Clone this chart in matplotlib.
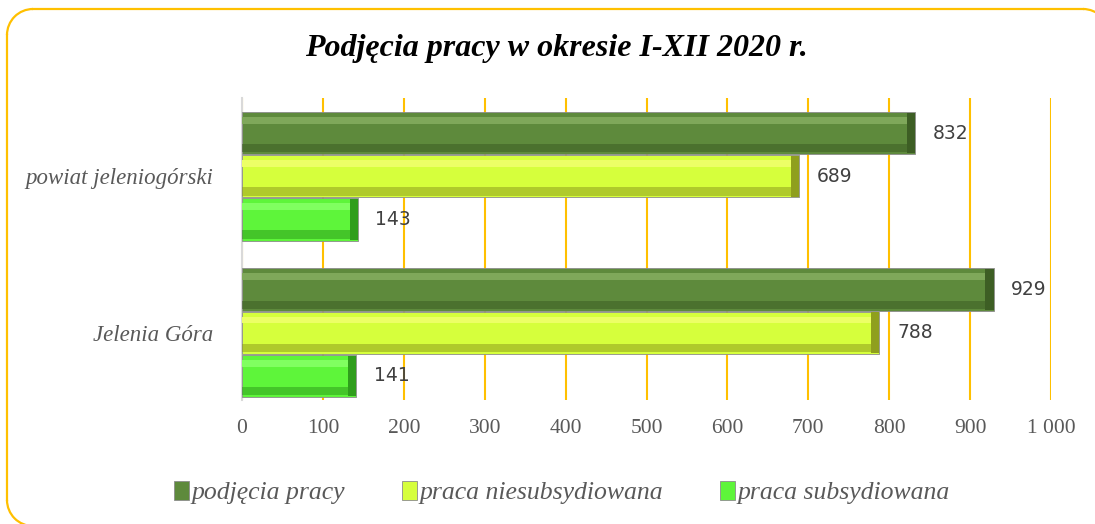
import matplotlib.pyplot as plt
import numpy as np
from matplotlib.patches import Arc

# dane
kategorie = ["Jelenia Góra", "powiat jeleniogórski"]
serie = ["podjęcia pracy", "praca niesubsydiowana", "praca subsydiowana"]
podjecia = [929, 832]
niesubsydiowana = [788, 689]
subsydiowana = [141, 143]
x_ticks = [0, 100, 200, 300, 400, 500, 600, 700, 800, 900, 1000]
x_tick_labels = ["0", "100", "200", "300", "400", "500", "600", "700", "800", "900", "1 000"]

kolory = ["#5e8a3c", "#d6ff3c", "#5ef53a"]
jasne = ["#7fa85a", "#ecff66", "#80ff60"]
ciemne = ["#3d5e24", "#8f9f1e", "#2f9e1c"]

serif = "Liberation Serif"
szary = "#595959"

fig = plt.figure(figsize=(10.95, 5.24), dpi=100)

# ramka (w pikselach, oś y w dół)
tlo = fig.add_axes([0, 0, 1, 1], zorder=-1)
tlo.set_xlim(0, 1095)
tlo.set_ylim(524, 0)
tlo.axis("off")
r = 26
ramka_kw = dict(color="#ffc000", linewidth=1.6)
tlo.plot([7 + r, 1083], [9, 9], **ramka_kw)
tlo.plot([7, 7], [9 + r, 500], **ramka_kw)
tlo.add_patch(Arc((7 + r, 9 + r), 2 * r, 2 * r, theta1=180, theta2=270, **ramka_kw))
tlo.add_patch(Arc((1083, 9 + r), 2 * r, 2 * r, theta1=270, theta2=360, **ramka_kw))
tlo.add_patch(Arc((7 + r, 500), 2 * r, 2 * r, theta1=90, theta2=180, **ramka_kw))

ax = fig.add_axes([242 / 1095, 124 / 524, 809 / 1095, 302 / 524])

y = np.arange(len(kategorie))
h = 0.27
offsets = [0.276, 0.0, -0.276]
dane = [podjecia, niesubsydiowana, subsydiowana]

for i, vals in enumerate(dane):
    yy = y + offsets[i]
    ax.barh(yy, vals, height=h, color=kolory[i], edgecolor="#8c8c8c",
            linewidth=0.6, label=serie[i], zorder=3)
    # efekt wypukłości
    ax.barh(yy + h * 0.3, vals, height=h * 0.16, color=jasne[i], zorder=4, linewidth=0)
    ax.barh(yy - h * 0.36, vals, height=h * 0.2, color=ciemne[i], alpha=0.55, zorder=4, linewidth=0)
    for yi, v in zip(yy, vals):
        ax.barh(yi, 10, left=v - 10, height=h * 0.96, color=ciemne[i], zorder=5, linewidth=0)
        ax.text(v + 22, yi, str(v), va="center", ha="left", fontsize=13.5,
                color="#404040", family="DejaVu Sans", zorder=6)

ax.set_xlim(0, 1000)
ax.set_ylim(-0.43, 1.5)
ax.set_xticks(x_ticks)
ax.set_xticklabels(x_tick_labels, family=serif, fontsize=15.5, color=szary)
ax.set_yticks(y)
ax.set_yticklabels(kategorie, family=serif, fontsize=16.5, style="italic", color=szary)
ax.tick_params(axis="both", length=0)
ax.tick_params(axis="x", pad=14)
ax.tick_params(axis="y", pad=21)
ax.grid(axis="x", color="#ffc000", linewidth=1.5, zorder=0)
ax.set_axisbelow(True)
for s in ["top", "right", "bottom"]:
    ax.spines[s].set_visible(False)
ax.spines["left"].set_color("#d9d9d9")
ax.spines["left"].set_linewidth(1.5)

fig.text(0.508, 0.908, "Podjęcia pracy w okresie I-XII 2020 r.", ha="center", va="center",
         family=serif, fontsize=23, fontweight="bold", style="italic", color="black")

handles, labels = ax.get_legend_handles_labels()
leg = fig.legend(handles, labels, loc="center", bbox_to_anchor=(0.513, 0.06), ncol=3,
                 frameon=False, prop={"family": serif, "style": "italic", "size": 18.5},
                 handlelength=0.6, handleheight=0.8, handletextpad=0.1, columnspacing=2.2)
for t in leg.get_texts():
    t.set_color(szary)

fig.savefig("out.png", dpi=100)
